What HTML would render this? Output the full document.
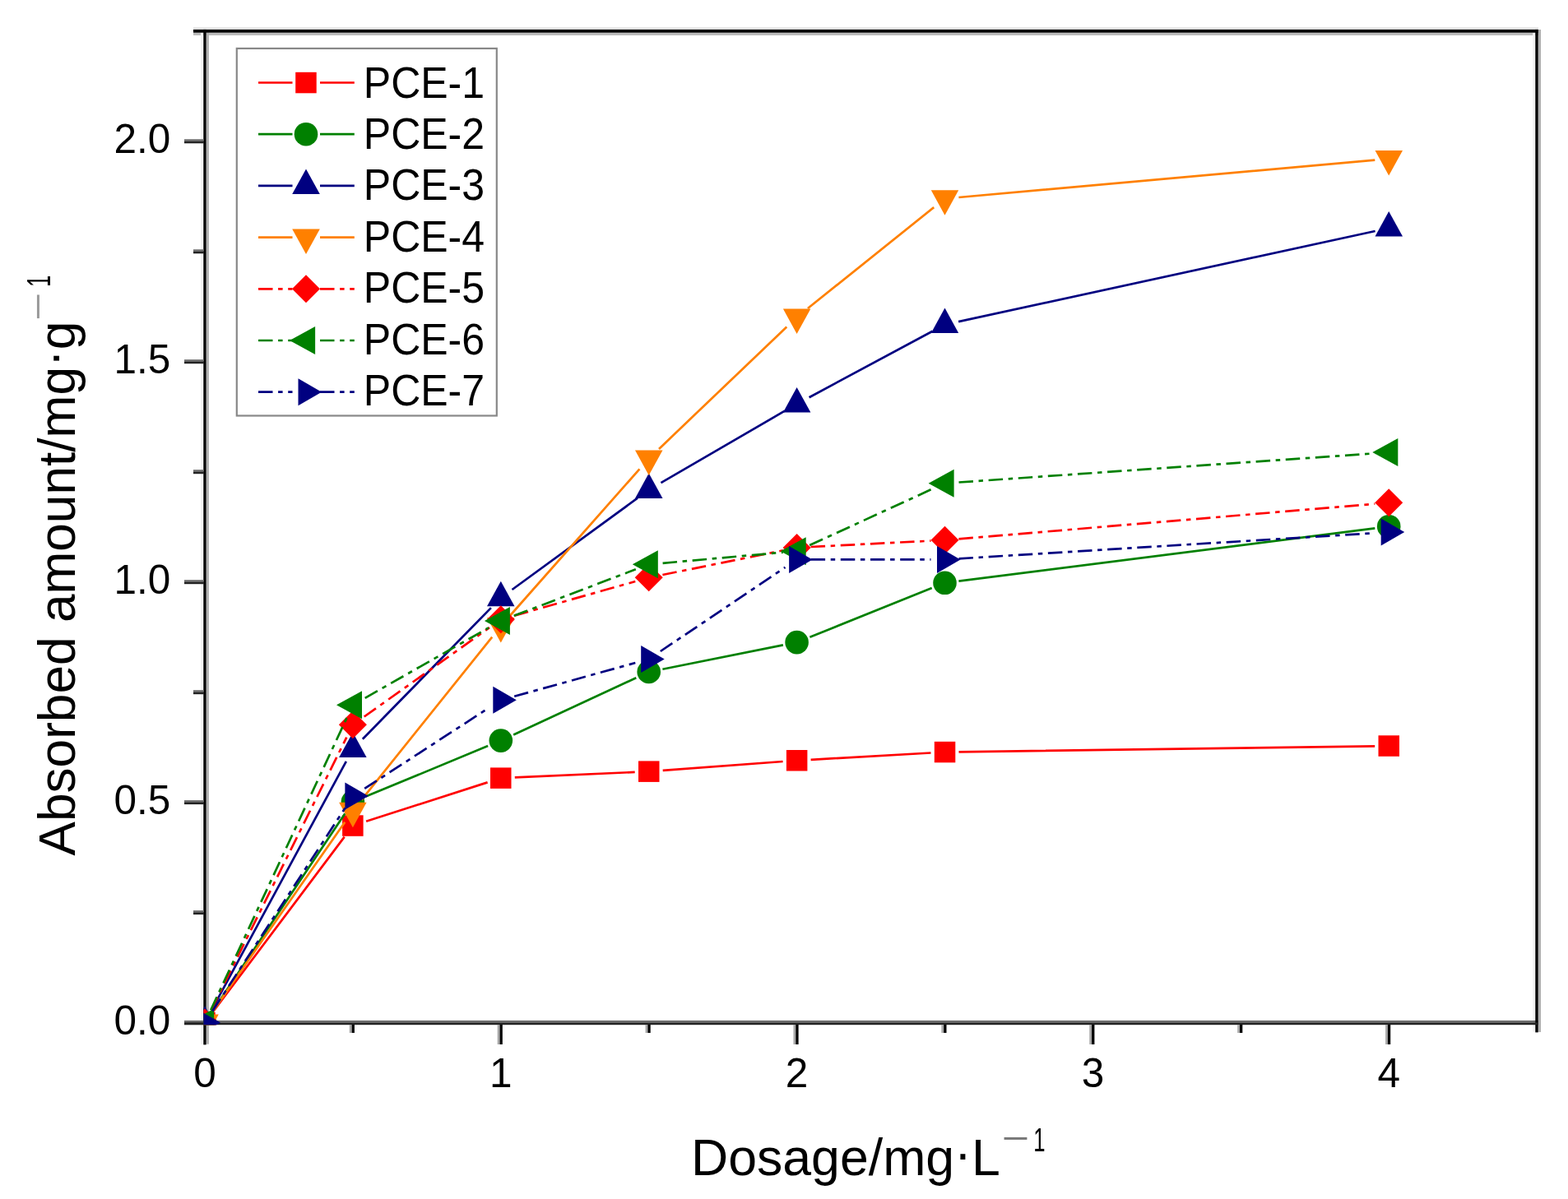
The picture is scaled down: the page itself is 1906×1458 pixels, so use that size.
<!DOCTYPE html><html><head><meta charset="utf-8"><title>Absorbed amount vs Dosage</title><style>html,body{margin:0;padding:0;background:#fff;overflow:hidden}svg{display:block}text{font-family:"Liberation Sans", Arial, sans-serif}</style></head><body>
<svg width="1906" height="1458" viewBox="0 0 1906 1458">
<rect width="1906" height="1458" fill="#fff"/>
<defs><clipPath id="pa"><rect x="247.3" y="36" width="1622.4" height="1210.2"/></clipPath></defs>
<rect x="235" y="33" width="1635" height="2.9" fill="#e8e8e8"/>
<rect x="235" y="39.7" width="1638" height="3.3" fill="#bbbbbb"/>
<rect x="244" y="36" width="3.3" height="1234" fill="#f2f2f2"/>
<rect x="250.6" y="39.7" width="3.3" height="1230" fill="#b0b0b0"/>
<rect x="1863.2" y="39.7" width="3.1" height="1215" fill="#f2f2f2"/>
<rect x="1869.7" y="36" width="3.3" height="1219" fill="#b0b0b0"/>
<rect x="224" y="1240.9" width="1645.7" height="2.5" fill="#6b6b6b"/>
<rect x="235" y="35.9" width="1634.7" height="3.8" fill="#000"/>
<rect x="247.3" y="35.9" width="3.3" height="1234.5" fill="#000"/>
<rect x="1866.3" y="35.9" width="3.4" height="1219.5" fill="#000"/>
<rect x="224" y="1243.4" width="1645.7" height="2.8" fill="#222"/>
<rect x="224" y="1241.1" width="24" height="2.2" fill="#6b6b6b"/><rect x="224" y="1243.3" width="24" height="2.8" fill="#222"/>
<rect x="235" y="1107.1" width="13" height="2.2" fill="#6b6b6b"/><rect x="235" y="1109.3" width="13" height="2.8" fill="#222"/>
<rect x="224" y="973.1" width="24" height="2.2" fill="#6b6b6b"/><rect x="224" y="975.3" width="24" height="2.8" fill="#222"/>
<rect x="235" y="839.2" width="13" height="2.2" fill="#6b6b6b"/><rect x="235" y="841.4" width="13" height="2.8" fill="#222"/>
<rect x="224" y="705.2" width="24" height="2.2" fill="#6b6b6b"/><rect x="224" y="707.4" width="24" height="2.8" fill="#222"/>
<rect x="235" y="571.2" width="13" height="2.2" fill="#6b6b6b"/><rect x="235" y="573.4" width="13" height="2.8" fill="#222"/>
<rect x="224" y="437.2" width="24" height="2.2" fill="#6b6b6b"/><rect x="224" y="439.4" width="24" height="2.8" fill="#222"/>
<rect x="235" y="303.3" width="13" height="2.2" fill="#6b6b6b"/><rect x="235" y="305.5" width="13" height="2.8" fill="#222"/>
<rect x="224" y="169.3" width="24" height="2.2" fill="#6b6b6b"/><rect x="224" y="171.5" width="24" height="2.8" fill="#222"/>
<rect x="424.8" y="1246" width="2.8" height="10" fill="#a8a8a8"/><rect x="427.6" y="1246" width="3.3" height="10" fill="#000"/>
<rect x="604.7" y="1246" width="2.8" height="24" fill="#a8a8a8"/><rect x="607.5" y="1246" width="3.3" height="24" fill="#000"/>
<rect x="784.6" y="1246" width="2.8" height="10" fill="#a8a8a8"/><rect x="787.4" y="1246" width="3.3" height="10" fill="#000"/>
<rect x="964.5" y="1246" width="2.8" height="24" fill="#a8a8a8"/><rect x="967.3" y="1246" width="3.3" height="24" fill="#000"/>
<rect x="1144.4" y="1246" width="2.8" height="10" fill="#a8a8a8"/><rect x="1147.2" y="1246" width="3.3" height="10" fill="#000"/>
<rect x="1324.3" y="1246" width="2.8" height="24" fill="#a8a8a8"/><rect x="1327.1" y="1246" width="3.3" height="24" fill="#000"/>
<rect x="1504.2" y="1246" width="2.8" height="10" fill="#a8a8a8"/><rect x="1507.0" y="1246" width="3.3" height="10" fill="#000"/>
<rect x="1684.1" y="1246" width="2.8" height="24" fill="#a8a8a8"/><rect x="1686.9" y="1246" width="3.3" height="24" fill="#000"/>
<text x="207.4" y="1257.6" font-size="49.5" text-anchor="end" fill="#000">0.0</text>
<text x="207.4" y="989.6" font-size="49.5" text-anchor="end" fill="#000">0.5</text>
<text x="207.4" y="721.7" font-size="49.5" text-anchor="end" fill="#000">1.0</text>
<text x="207.4" y="453.8" font-size="49.5" text-anchor="end" fill="#000">1.5</text>
<text x="207.4" y="185.8" font-size="49.5" text-anchor="end" fill="#000">2.0</text>
<text x="249.0" y="1322" font-size="49.5" text-anchor="middle" fill="#000">0</text>
<text x="608.8" y="1322" font-size="49.5" text-anchor="middle" fill="#000">1</text>
<text x="968.6" y="1322" font-size="49.5" text-anchor="middle" fill="#000">2</text>
<text x="1328.4" y="1322" font-size="49.5" text-anchor="middle" fill="#000">3</text>
<text x="1688.2" y="1322" font-size="49.5" text-anchor="middle" fill="#000">4</text>
<text x="840" y="1429.4" font-size="62.6" fill="#000">Dosage/mg<tspan dy="-5">·</tspan><tspan dy="5">L</tspan></text>
<text transform="translate(1217.7,1398.3) scale(1.38,1)" font-size="41.5" fill="#777">−</text>
<text transform="translate(1256.3,1399.7) scale(0.62,1)" font-size="41.5" fill="#000">1</text>
<text transform="translate(91.1,1040.6) rotate(-90)" font-size="62.2" fill="#000">Absorbed amount/mg<tspan dy="-5">·</tspan><tspan dy="5">g</tspan></text>
<text transform="translate(59.6,390) rotate(-90) scale(1.42,1)" font-size="41.5" fill="#999">−</text>
<text transform="translate(61,349.1) rotate(-90) scale(0.62,1)" font-size="41.5" fill="#000">1</text>
<g clip-path="url(#pa)">
<path d="M259.2,1230.0L418.7,1017.6M445.1,998.8L592.6,951.4M625.8,945.4L771.7,938.9M805.7,936.9L951.6,926.0M985.6,923.8L1131.5,915.5M1165.5,914.3L1671.2,907.3" fill="none" stroke="#ff0000" stroke-width="2.7"/>
<rect x="236.2" y="1230.8" width="25.5" height="25.5" fill="#ff0000"/>
<rect x="416.1" y="991.3" width="25.5" height="25.5" fill="#ff0000"/>
<rect x="596.0" y="933.4" width="25.5" height="25.5" fill="#ff0000"/>
<rect x="776.0" y="925.4" width="25.5" height="25.5" fill="#ff0000"/>
<rect x="955.9" y="912.0" width="25.5" height="25.5" fill="#ff0000"/>
<rect x="1135.8" y="901.8" width="25.5" height="25.5" fill="#ff0000"/>
<rect x="1675.5" y="894.3" width="25.5" height="25.5" fill="#ff0000"/>
<path d="M258.5,1229.5L419.4,989.2M444.6,968.6L593.1,907.1M624.2,893.5L773.3,824.2M805.4,813.7L951.9,784.4M984.4,774.8L1132.7,715.1M1165.4,706.6L1671.3,642.3" fill="none" stroke="#008000" stroke-width="2.7"/>
<circle cx="249.0" cy="1243.6" r="14.3" fill="#008000"/>
<circle cx="428.9" cy="975.1" r="14.3" fill="#008000"/>
<circle cx="608.8" cy="900.6" r="14.3" fill="#008000"/>
<circle cx="788.7" cy="817.0" r="14.3" fill="#008000"/>
<circle cx="968.6" cy="781.1" r="14.3" fill="#008000"/>
<circle cx="1148.5" cy="708.8" r="14.3" fill="#008000"/>
<circle cx="1688.2" cy="640.2" r="14.3" fill="#008000"/>
<path d="M257.1,1228.6L420.8,925.8M440.8,898.7L596.9,739.1M622.5,717.0L775.0,605.7M803.4,587.2L953.9,499.7M983.6,483.2L1133.5,402.8M1165.1,391.1L1671.6,281.0" fill="none" stroke="#000080" stroke-width="2.7"/>
<polygon points="249.0,1223.3 265.8,1253.8 232.2,1253.8" fill="#000080"/>
<polygon points="428.9,890.5 445.6,921.0 412.1,921.0" fill="#000080"/>
<polygon points="608.8,706.7 625.5,737.2 592.0,737.2" fill="#000080"/>
<polygon points="788.7,575.4 805.5,605.9 772.0,605.9" fill="#000080"/>
<polygon points="968.6,470.9 985.4,501.4 951.9,501.4" fill="#000080"/>
<polygon points="1148.5,374.4 1165.2,404.9 1131.8,404.9" fill="#000080"/>
<polygon points="1688.2,257.0 1705.0,287.5 1671.5,287.5" fill="#000080"/>
<path d="M258.7,1229.7L419.2,999.8M439.5,972.6L598.2,774.6M620.1,748.5L777.4,570.4M801.0,545.9L956.3,397.4M981.9,375.0L1135.2,252.1M1165.4,240.0L1671.3,194.7" fill="none" stroke="#ff8000" stroke-width="2.7"/>
<polygon points="249.0,1263.9 265.8,1233.4 232.2,1233.4" fill="#ff8000"/>
<polygon points="428.9,1006.2 445.6,975.7 412.1,975.7" fill="#ff8000"/>
<polygon points="608.8,781.6 625.5,751.1 592.0,751.1" fill="#ff8000"/>
<polygon points="788.7,578.0 805.5,547.5 772.0,547.5" fill="#ff8000"/>
<polygon points="968.6,406.0 985.4,375.5 951.9,375.5" fill="#ff8000"/>
<polygon points="1148.5,261.8 1165.2,231.3 1131.8,231.3" fill="#ff8000"/>
<polygon points="1688.2,213.6 1705.0,183.1 1671.5,183.1" fill="#ff8000"/>
<path d="M256.6,1228.4L421.3,896.6M442.7,871.5L595.0,763.1M625.2,748.6L772.3,707.0M805.4,699.0L951.9,669.3M985.6,665.0L1131.5,657.6M1165.4,655.4L1671.3,612.7" fill="none" stroke="#ff0000" stroke-width="2.7" stroke-dasharray="17.5 6.6 5.5 6.6"/>
<polygon points="249.0,1226.6 266.0,1243.6 249.0,1260.6 232.0,1243.6" fill="#ff0000"/>
<polygon points="428.9,864.3 445.9,881.3 428.9,898.3 411.9,881.3" fill="#ff0000"/>
<polygon points="608.8,736.3 625.8,753.3 608.8,770.3 591.8,753.3" fill="#ff0000"/>
<polygon points="788.7,685.3 805.7,702.3 788.7,719.3 771.7,702.3" fill="#ff0000"/>
<polygon points="968.6,648.9 985.6,665.9 968.6,682.9 951.6,665.9" fill="#ff0000"/>
<polygon points="1148.5,639.8 1165.5,656.8 1148.5,673.8 1131.5,656.8" fill="#ff0000"/>
<polygon points="1688.2,594.2 1705.2,611.2 1688.2,628.2 1671.2,611.2" fill="#ff0000"/>
<path d="M256.2,1228.2L421.7,872.6M443.7,848.8L594.0,763.3M624.7,748.8L772.8,692.3M805.6,684.8L951.7,671.7M984.1,663.1L1133.0,594.7M1165.5,586.5L1671.2,551.3" fill="none" stroke="#008000" stroke-width="2.7" stroke-dasharray="17.5 6.6 5.5 6.6"/>
<polygon points="229.1,1243.6 260.1,1226.6 260.1,1260.6" fill="#008000"/>
<polygon points="409.0,857.2 440.0,840.2 440.0,874.2" fill="#008000"/>
<polygon points="588.9,754.9 619.9,737.9 619.9,771.9" fill="#008000"/>
<polygon points="768.8,686.3 799.8,669.3 799.8,703.3" fill="#008000"/>
<polygon points="948.7,670.2 979.7,653.2 979.7,687.2" fill="#008000"/>
<polygon points="1128.6,587.7 1159.6,570.7 1159.6,604.7" fill="#008000"/>
<polygon points="1668.3,550.1 1699.3,533.1 1699.3,567.1" fill="#008000"/>
<path d="M258.3,1229.4L419.6,982.4M443.2,958.9L594.5,860.6M625.2,846.8L772.3,806.0M802.8,792.0L954.5,689.9M985.6,680.4L1131.5,680.4M1165.5,679.3L1671.2,648.2" fill="none" stroke="#000080" stroke-width="2.7" stroke-dasharray="17.5 6.6 5.5 6.6"/>
<polygon points="268.0,1243.6 239.5,1227.1 239.5,1260.1" fill="#000080"/>
<polygon points="447.9,968.1 419.4,951.6 419.4,984.6" fill="#000080"/>
<polygon points="627.8,851.3 599.3,834.8 599.3,867.8" fill="#000080"/>
<polygon points="807.7,801.5 779.2,785.0 779.2,818.0" fill="#000080"/>
<polygon points="987.6,680.4 959.1,663.9 959.1,696.9" fill="#000080"/>
<polygon points="1167.5,680.4 1139.0,663.9 1139.0,696.9" fill="#000080"/>
<polygon points="1707.2,647.1 1678.7,630.6 1678.7,663.6" fill="#000080"/>
</g>
<rect x="287.8" y="58.9" width="316" height="446.6" fill="#fff" stroke="#888" stroke-width="2.2"/>
<path d="M314,100.5H355.5M389,100.5H430.8" stroke="#ff0000" stroke-width="2.7" fill="none"/>
<rect x="359.2" y="87.8" width="25.5" height="25.5" fill="#ff0000"/>
<text transform="translate(441.8,118.6) scale(1,1.07)" font-size="50" fill="#000">PCE-1</text>
<path d="M314,163.2H355.5M389,163.2H430.8" stroke="#008000" stroke-width="2.7" fill="none"/>
<circle cx="372.0" cy="163.2" r="14.3" fill="#008000"/>
<text transform="translate(441.8,181.0) scale(1,1.07)" font-size="50" fill="#000">PCE-2</text>
<path d="M314,225.9H355.5M389,225.9H430.8" stroke="#000080" stroke-width="2.7" fill="none"/>
<polygon points="372.0,205.6 388.8,236.1 355.2,236.1" fill="#000080"/>
<text transform="translate(441.8,243.4) scale(1,1.07)" font-size="50" fill="#000">PCE-3</text>
<path d="M314,288.6H355.5M389,288.6H430.8" stroke="#ff8000" stroke-width="2.7" fill="none"/>
<polygon points="372.0,308.9 388.8,278.4 355.2,278.4" fill="#ff8000"/>
<text transform="translate(441.8,305.8) scale(1,1.07)" font-size="50" fill="#000">PCE-4</text>
<path d="M314,351.3H355.5M389,351.3H430.8" stroke="#ff0000" stroke-width="2.7" fill="none" stroke-dasharray="17.5 6.6 5.5 6.6"/>
<polygon points="372.0,334.3 389.0,351.3 372.0,368.3 355.0,351.3" fill="#ff0000"/>
<text transform="translate(441.8,368.2) scale(1,1.07)" font-size="50" fill="#000">PCE-5</text>
<path d="M314,414.0H355.5M389,414.0H430.8" stroke="#008000" stroke-width="2.7" fill="none" stroke-dasharray="17.5 6.6 5.5 6.6"/>
<polygon points="352.1,414.0 383.1,397.0 383.1,431.0" fill="#008000"/>
<text transform="translate(441.8,430.6) scale(1,1.07)" font-size="50" fill="#000">PCE-6</text>
<path d="M314,476.7H355.5M389,476.7H430.8" stroke="#000080" stroke-width="2.7" fill="none" stroke-dasharray="17.5 6.6 5.5 6.6"/>
<polygon points="391.0,476.7 362.5,460.2 362.5,493.2" fill="#000080"/>
<text transform="translate(441.8,493.0) scale(1,1.07)" font-size="50" fill="#000">PCE-7</text>
</svg></body></html>
